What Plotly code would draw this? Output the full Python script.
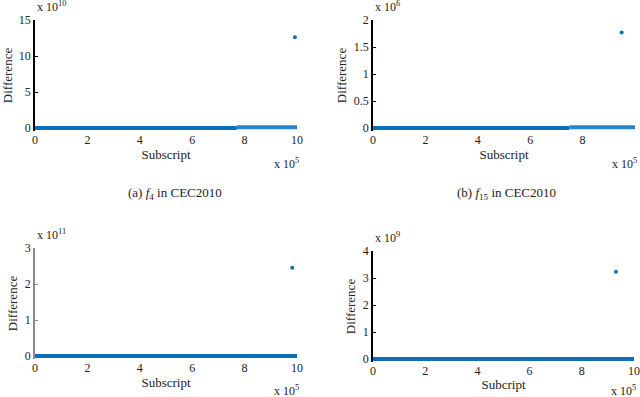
import plotly.graph_objects as go

W, H = 640, 397

# ---- data ----
panel_ids = ["a", "b", "c", "d"]
y_exponents = [10, 6, 11, 9]
y_tick_vals = [[0, 5, 10, 15], [0, 0.5, 1, 1.5, 2], [0, 1, 2, 3], [0, 1, 2, 3, 4]]
y_tick_text = [["0", "5", "10", "15"], ["0", "0.5", "1", "1.5", "2"], ["0", "1", "2", "3"], ["0", "1", "2", "3", "4"]]
x_tick_vals = [0, 2, 4, 6, 8, 10]            # x 10^5
bulk_x = [[0, 7.7], [0, 7.5], [0, 10], [0, 10]]          # near-zero differences, x 10^5
bulk_y = [[0, 0], [0, 0], [0, 0], [0, 0]]
tail_x = [[7.7, 10], [7.5, 10], [], []]                  # slightly larger differences
tail_y = [[0.1, 0.1], [0.012, 0.012], [], []]
outlier_x = [9.92, 9.49, 9.82, 9.31]                     # x 10^5
outlier_y = [12.6, 1.77, 2.45, 3.23]                     # x 10^exp
x_labels = ["Subscript", "Subscript", "Subscript", "Subcript"]
captions = ["(a) <i>f</i><sub>4</sub> in CEC2010", "(b) <i>f</i><sub>15</sub> in CEC2010", None, None]

# ---- layout geometry (pixels) ----
boxes = [  # left, right, top, zero
    (35, 297, 20, 128),
    (373, 635, 20, 128),
    (35, 297, 248, 356),
    (373, 634, 251, 359),
]
pad = 3  # px below the zero line so the thick band is not clipped
caption_cx = [175, 506]
axis_colors = ["#000000", "#000000", "#8a8a8a", "#000000"]
blue = "#0a6fba"
tail_blue = "#2a84c9"
font = "Liberation Serif, Times New Roman, serif"
txt = "#222222"

fig = go.Figure()
layout = dict(
    width=W, height=H, margin=dict(l=0, r=0, t=0, b=0, autoexpand=False),
    paper_bgcolor="white", plot_bgcolor="white", showlegend=False,
    font=dict(family=font, size=12, color=txt),
)
annotations = []
for i, pid in enumerate(panel_ids):
    l, r, t, z = boxes[i]
    k = "" if i == 0 else str(i + 1)
    xa, ya = "x" + k, "y" + k
    ymax = y_tick_vals[i][-1]
    ymin = -ymax * pad / (z - t)
    layout["xaxis" + k] = dict(
        domain=[l / W, r / W], range=[0, 10], anchor=ya, automargin=False,
        tickvals=x_tick_vals, ticktext=[str(v) for v in x_tick_vals],
        ticks="", showgrid=False, zeroline=False,
        showline=False, layer="below traces",
        tickfont=dict(family=font, size=12, color=txt),
        title=dict(text=x_labels[i], font=dict(family=font, size=13, color=txt), standoff=2),
        fixedrange=True,
    )
    layout["yaxis" + k] = dict(
        domain=[1 - (z + pad) / H, 1 - t / H], range=[ymin, ymax], anchor=xa, automargin=False,
        tickvals=y_tick_vals[i], ticktext=y_tick_text[i],
        ticks="inside", ticklen=3, tickcolor=axis_colors[i], showgrid=False, zeroline=False,
        showline=True, linecolor=axis_colors[i], linewidth=1.5, layer="below traces",
        tickfont=dict(family=font, size=12, color=txt),
        title=dict(text="Difference", font=dict(family=font, size=13, color=txt), standoff=4),
        fixedrange=True,
    )
    fig.add_trace(go.Scatter(x=bulk_x[i], y=bulk_y[i], mode="lines", xaxis=xa, yaxis=ya,
                             line=dict(color=blue, width=4), hoverinfo="skip"))
    if tail_x[i]:
        fig.add_trace(go.Scatter(x=tail_x[i], y=tail_y[i], mode="lines", xaxis=xa, yaxis=ya,
                                 line=dict(color=tail_blue, width=4), hoverinfo="skip"))
    fig.add_trace(go.Scatter(x=[outlier_x[i]], y=[outlier_y[i]], mode="markers", xaxis=xa, yaxis=ya,
                             marker=dict(color=blue, size=4), cliponaxis=False))
    # exponent labels
    annotations.append(dict(text="x 10<sup>%d</sup>" % y_exponents[i], x=l / W, y=1 - (t - 4) / H,
                            xref="paper", yref="paper", xanchor="left", yanchor="bottom", showarrow=False,
                            font=dict(family=font, size=12, color=txt)))
    annotations.append(dict(text="x 10<sup>5</sup>", x=(r - 25) / W, y=1 - min(z + 26, H - 16) / H,
                            xref="paper", yref="paper", xanchor="left", yanchor="top", showarrow=False,
                            font=dict(family=font, size=12, color=txt)))
    if captions[i]:
        annotations.append(dict(text=captions[i], x=caption_cx[i] / W, y=1 - 193 / H,
                                xref="paper", yref="paper", xanchor="center", yanchor="middle", showarrow=False,
                                font=dict(family=font, size=13, color=txt)))
layout["annotations"] = annotations
fig.update_layout(**layout)
fig.write_html("out.html", config={"displayModeBar": False},
               post_script="document.body.style.margin='0';document.body.style.overflow='hidden';")
